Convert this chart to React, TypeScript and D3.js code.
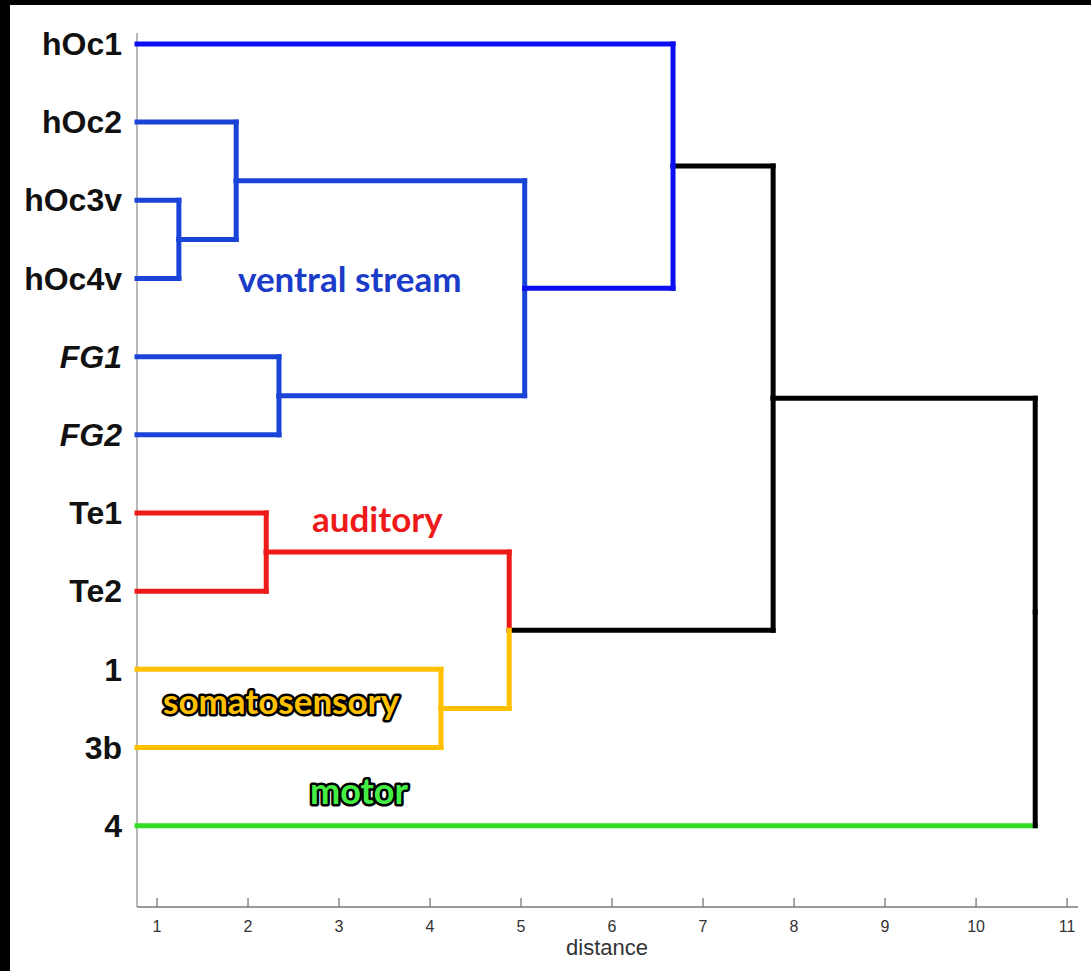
import React from 'react';
import * as d3 from 'd3';

// leaves in dendrogram order (top to bottom)
const leafLabels = ['hOc1', 'hOc2', 'hOc3v', 'hOc4v', 'FG1', 'FG2', 'Te1', 'Te2', '1', '3b', '4'];
const italicLeaves = ['FG1', 'FG2'];

// linkage: node 11 + i joins mergeLeft[i] and mergeRight[i] at mergeHeight[i]
const mergeLeft = [2, 1, 4, 12, 0, 6, 8, 16, 15, 19];
const mergeRight = [3, 11, 5, 13, 14, 7, 9, 17, 18, 10];
const mergeHeight = [1.24, 1.87, 2.34, 5.04, 6.67, 2.2, 4.12, 4.87, 7.77, 10.65];

const tickValues = [1, 2, 3, 4, 5, 6, 7, 8, 9, 10, 11];

const groupLabels = ['ventral stream', 'auditory', 'somatosensory', 'motor'];

const BLUE = '#1a44d8';
const BLUE2 = '#0a0ef0';
const RED = '#ee1a1a';
const YELLOW = '#ffc000';
const GREEN = '#33dd22';
const BLACK = '#000';

// colour of the branch from a node up to its parent
function branchColor(id: number) {
  if (id === 0 || id === 14) return BLUE2;
  if (id <= 5 || (id >= 11 && id <= 14)) return BLUE;
  if (id === 6 || id === 7 || id === 16) return RED;
  if (id === 8 || id === 9 || id === 17) return YELLOW;
  if (id === 10) return GREEN;
  return BLACK;
}
// the motor leaf only has its horizontal part green
function vertColor(id: number) {
  return id === 10 ? BLACK : branchColor(id);
}

export default function App() {
  const width = 1091, height = 971;

  const x = d3.scaleLinear().domain([0.78, 11.12]).range([137, 1078]);
  const y = d3.scaleLinear().domain([-0.14, 11.04]).range([33, 907]);

  // positions of every node
  const pos: { h: number; p: number }[] = leafLabels.map((_, i) => ({ h: 0, p: i }));
  mergeHeight.forEach((h, i) => {
    const a = pos[mergeLeft[i]], b = pos[mergeRight[i]];
    pos.push({ h, p: (a.p + b.p) / 2 });
  });

  const segs: { d: string; color: string; z: number }[] = [];
  mergeHeight.forEach((h, i) => {
    const parent = pos[11 + i];
    [mergeLeft[i], mergeRight[i]].forEach(c => {
      const child = pos[c];
      const x0 = x(Math.max(child.h, x.domain()[0]));
      const hp = d3.path();
      hp.moveTo(x0, y(child.p));
      hp.lineTo(x(parent.h), y(child.p));
      const vp = d3.path();
      vp.moveTo(x(parent.h), y(child.p));
      vp.lineTo(x(parent.h), y(parent.p));
      const vc = vertColor(c), hc = branchColor(c);
      segs.push({ d: hp.toString(), color: hc, z: hc === BLACK ? 0 : 1 });
      segs.push({ d: vp.toString(), color: vc, z: vc === BLACK ? (c === 10 ? 2 : 0) : 1 });
    });
  });
  // black segments go underneath coloured ones, except the top merge corner
  segs.sort((a, b) => a.z - b.z);

  const axisY = y.range()[1];
  const axisColor = '#777';
  const annFont = 'Lato, Open Sans, sans-serif';

  return (
    <svg width={width} height={height} style={{ position: 'absolute', left: 0, top: 0, background: '#fff' }}>
      <rect x={0} y={0} width={width} height={height} fill="#fff" />
      <rect x={0} y={0} width={10} height={height} fill="#000" />
      <rect x={0} y={0} width={width} height={5} fill="#000" />

      {/* axes */}
      <line x1={137} x2={137} y1={33} y2={axisY} stroke="#888" strokeWidth={1.2} />
      <line x1={137} x2={1078} y1={axisY} y2={axisY} stroke={axisColor} strokeWidth={1.5} />
      {tickValues.map(t => (
        <g key={t}>
          <line x1={x(t)} x2={x(t)} y1={axisY} y2={axisY - 9} stroke={axisColor} strokeWidth={1.3} />
          <text x={x(t)} y={axisY + 19} textAnchor="middle" fontFamily="Liberation Sans, Arial, sans-serif"
            fontSize={16} fill="#333" dy="0.35em">{t}</text>
        </g>
      ))}
      <text x={607} y={955} textAnchor="middle" fontFamily="Liberation Sans, Arial, sans-serif" fontSize={22} fill="#333">distance</text>

      {/* leaf labels */}
      {leafLabels.map((l, i) => (
        <text key={l} x={122} y={y(i)} dy="0.35em" textAnchor="end" fontFamily="Liberation Sans, Arial, sans-serif"
          fontWeight="bold" fontStyle={italicLeaves.includes(l) ? 'italic' : 'normal'} fontSize={32} fill="#111">{l}</text>
      ))}

      {/* dendrogram */}
      {segs.map((b, i) => (
        <path key={i} d={b.d} fill="none" stroke={b.color} strokeWidth={5} strokeLinecap="square" />
      ))}

      {/* group annotations */}
      <text x={238} y={292} fontFamily={annFont} fontWeight="bold" fontSize={35} fill="#1a3cc8">{groupLabels[0]}</text>
      <text x={312} y={532} fontFamily={annFont} fontWeight="bold" fontSize={35} fill={RED}>{groupLabels[1]}</text>
      <text x={163} y={714} fontFamily={annFont} fontWeight="bold" fontSize={35} fill={YELLOW}
        stroke="#000" strokeWidth={5} strokeLinejoin="round" style={{ paintOrder: 'stroke' }}>{groupLabels[2]}</text>
      <text x={310} y={804} fontFamily={annFont} fontWeight="bold" fontSize={36} fill="#44ee44"
        stroke="#000" strokeWidth={5} strokeLinejoin="round" style={{ paintOrder: 'stroke' }}>{groupLabels[3]}</text>
    </svg>
  );
}
